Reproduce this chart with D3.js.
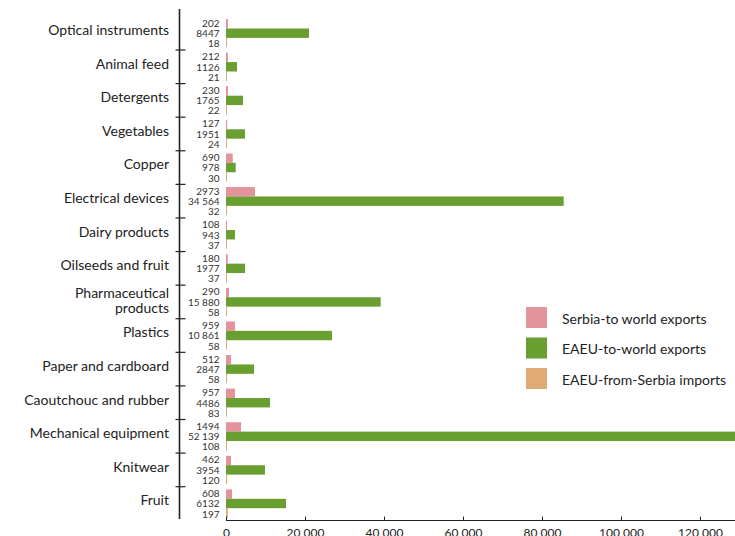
<!DOCTYPE html>
<html>
<head>
<meta charset="utf-8">
<script src="https://cdn.jsdelivr.net/npm/d3@7"></script>
<style>
  html, body { margin: 0; padding: 0; background: #fff; }
  svg { display: block; font-family: Lato, "Noto Sans", sans-serif; }
</style>
</head>
<body>
<svg id="chart" width="735" height="536"></svg>
<script>
const categories = ["Optical instruments", "Animal feed", "Detergents", "Vegetables", "Copper",
  "Electrical devices", "Dairy products", "Oilseeds and fruit", "Pharmaceutical products", "Plastics",
  "Paper and cardboard", "Caoutchouc and rubber", "Mechanical equipment", "Knitwear", "Fruit"];
const seriesNames = ["Serbia-to world exports", "EAEU-to-world exports", "EAEU-from-Serbia imports"];
const seriesColors = ["#e5939a", "#689f30", "#dfaa75"];

// values printed next to the bars
const serbiaLabels = [202, 212, 230, 127, 690, 2973, 108, 180, 290, 959, 512, 957, 1494, 462, 608];
const eaeuLabels = [8447, 1126, 1765, 1951, 978, 34564, 943, 1977, 15880, 10861, 2847, 4486, 52139, 3954, 6132];
const importLabels = [18, 21, 22, 24, 30, 32, 37, 37, 58, 58, 58, 83, 108, 120, 197];

// bar lengths as read against the x axis
const serbiaBars = [500, 500, 510, 300, 1700, 7340, 260, 450, 760, 2280, 1270, 2280, 3800, 1270, 1520];
const eaeuBars = [21010, 2780, 4300, 4810, 2460, 85490, 2280, 4810, 39160, 26830, 7090, 11140, 131000, 9870, 15190];
const importBars = [45, 50, 55, 60, 75, 80, 90, 90, 140, 140, 140, 200, 260, 290, 480];

const xTicks = [0, 20000, 40000, 60000, 80000, 100000, 120000];

const svg = d3.select("#chart");
const W = 735;

const x = d3.scaleLinear().domain([0, 120000]).range([226, 700]);
const y = d3.scaleBand().domain(categories).range([16.4, 520.3]).padding(0);
const yInner = d3.scaleBand().domain(seriesNames).range([2.7, 30.9]).padding(0);

const barSets = [serbiaBars, eaeuBars, importBars];
const labelSets = [serbiaLabels, eaeuLabels, importLabels];

const fmt = v => v >= 10000 ? d3.format(",")(v).replace(/,/g, " ") : String(v);

// bars
const g = svg.append("g");
categories.forEach((cat, i) => {
  const midBar = y(cat) + yInner(seriesNames[1]) + yInner.bandwidth() / 2;
  seriesNames.forEach((s, j) => {
    const v = barSets[j][i];
    const x0 = x(0);
    const x1 = Math.min(x(v), W);
    g.append("rect")
      .attr("x", x0)
      .attr("y", y(cat) + yInner(s))
      .attr("width", Math.max(1, x1 - x0))
      .attr("height", yInner.bandwidth())
      .attr("fill", seriesColors[j]);
    g.append("text")
      .attr("x", 219.5)
      .attr("y", midBar + (j - 1) * 10.3 + 0.3)
      .attr("dy", "0.35em")
      .attr("text-anchor", "end")
      .attr("font-size", "10px")
      .attr("fill", "#333")
      .text(fmt(labelSets[j][i]));
  });
});

// vertical axis
svg.append("line")
  .attr("x1", 179.5).attr("x2", 179.5)
  .attr("y1", 9).attr("y2", 519)
  .attr("stroke", "#222").attr("stroke-width", 1.6);
categories.forEach((cat, i) => {
  if (i > 0) {
    svg.append("line")
      .attr("x1", 175.5).attr("x2", 185.5)
      .attr("y1", y(cat)).attr("y2", y(cat))
      .attr("stroke", "#222").attr("stroke-width", 1.2);
  }
  const cy = y(cat) + y.bandwidth() / 2 - 3;
  const t = svg.append("text")
    .attr("x", 169)
    .attr("text-anchor", "end")
    .attr("font-size", "14px")
    .attr("fill", "#222");
  if (cat === "Pharmaceutical products") {
    t.append("tspan").attr("x", 169).attr("y", cy - 6).attr("dy", "0.35em").text("Pharmaceutical");
    t.append("tspan").attr("x", 169).attr("y", cy + 9.5).attr("dy", "0.35em").text("products");
  } else {
    t.attr("y", cy).attr("dy", "0.35em").text(cat);
  }
});

// bottom axis
const axis = svg.append("g")
  .attr("transform", "translate(0,520.5)")
  .call(d3.axisBottom(x).tickValues(xTicks).tickFormat(fmt).tickSizeInner(-4).tickSizeOuter(0).tickPadding(8));
axis.select(".domain").attr("d", `M${x(0)},0H${W}`).attr("stroke", "#222");
axis.selectAll(".tick line").attr("stroke", "#222");
axis.selectAll(".tick text").attr("font-size", "12px").attr("fill", "#222")
  .attr("font-family", "Lato, 'Noto Sans', sans-serif");

// legend
const legend = svg.append("g").attr("transform", "translate(526,307)");
seriesNames.forEach((s, j) => {
  legend.append("rect")
    .attr("x", 0).attr("y", j * 30.5)
    .attr("width", 21).attr("height", 21)
    .attr("fill", seriesColors[j]);
  legend.append("text")
    .attr("x", 36).attr("y", j * 30.5 + 12)
    .attr("dy", "0.35em")
    .attr("font-size", "14px")
    .attr("fill", "#222")
    .text(s);
});
</script>
</body>
</html>
